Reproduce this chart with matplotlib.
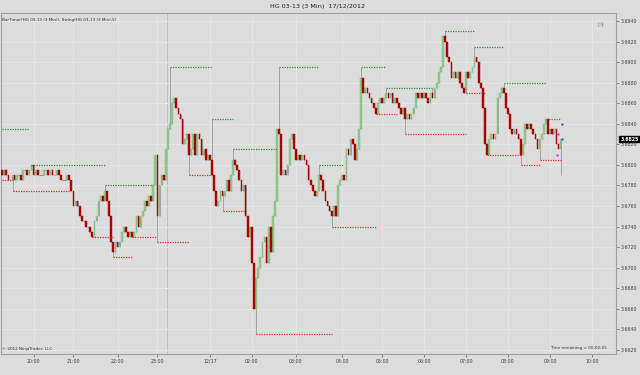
import numpy as np
import matplotlib.pyplot as plt

# HG 03-13, 3 minute bars, closes (bar 0 = left edge)
first_open = 3.6795
closes = [
    3.6790, 3.6795, 3.6790, 3.6785, 3.6785, 3.6790, 3.6785, 3.6790, 3.6790, 3.6785,
    3.6795, 3.6795, 3.6790, 3.6795, 3.6800, 3.6790, 3.6795, 3.6790, 3.6790, 3.6790,
    3.6795, 3.6795, 3.6790, 3.6795, 3.6790, 3.6790, 3.6795, 3.6790, 3.6785, 3.6785,
    3.6785, 3.6790, 3.6785, 3.6775, 3.6760, 3.6765, 3.6760, 3.6750, 3.6745, 3.6745,
    3.6740, 3.6740, 3.6735, 3.6730, 3.6745, 3.6750, 3.6765, 3.6770, 3.6765, 3.6775,
    3.6765, 3.6750, 3.6725, 3.6715, 3.6725, 3.6720, 3.6725, 3.6735, 3.6740, 3.6735,
    3.6730, 3.6735, 3.6730, 3.6735, 3.6750, 3.6740, 3.6750, 3.6755, 3.6765, 3.6760,
    3.6770, 3.6765, 3.6780, 3.6810, 3.6750, 3.6780, 3.6790, 3.6785, 3.6815, 3.6835,
    3.6840, 3.6860, 3.6865, 3.6855, 3.6850, 3.6845, 3.6820, 3.6825, 3.6830, 3.6810,
    3.6815, 3.6830, 3.6810, 3.6830, 3.6825, 3.6810, 3.6815, 3.6805, 3.6810, 3.6805,
    3.6790, 3.6775, 3.6760, 3.6765, 3.6775, 3.6770, 3.6775, 3.6785, 3.6775, 3.6790,
    3.6805, 3.6800, 3.6795, 3.6785, 3.6775, 3.6780, 3.6750, 3.6730, 3.6740, 3.6705,
    3.6660, 3.6690, 3.6700, 3.6710, 3.6725, 3.6730, 3.6705, 3.6740, 3.6715, 3.6750,
    3.6765, 3.6835, 3.6830, 3.6790, 3.6795, 3.6790, 3.6800, 3.6825, 3.6830, 3.6815,
    3.6805, 3.6810, 3.6805, 3.6810, 3.6805, 3.6800, 3.6785, 3.6780, 3.6775, 3.6770,
    3.6775, 3.6790, 3.6785, 3.6775, 3.6765, 3.6760, 3.6755, 3.6750, 3.6760, 3.6750,
    3.6780, 3.6785, 3.6790, 3.6785, 3.6815, 3.6810, 3.6825, 3.6820, 3.6805, 3.6815,
    3.6835, 3.6885, 3.6870, 3.6875, 3.6870, 3.6865, 3.6860, 3.6855, 3.6850, 3.6860,
    3.6865, 3.6860, 3.6865, 3.6870, 3.6865, 3.6870, 3.6860, 3.6865, 3.6860, 3.6855,
    3.6850, 3.6855, 3.6845, 3.6850, 3.6845, 3.6850, 3.6855, 3.6870, 3.6865, 3.6870,
    3.6865, 3.6870, 3.6865, 3.6860, 3.6870, 3.6865, 3.6875, 3.6880, 3.6890, 3.6895,
    3.6925, 3.6920, 3.6905, 3.6900, 3.6885, 3.6890, 3.6885, 3.6890, 3.6880, 3.6875,
    3.6870, 3.6890, 3.6885, 3.6890, 3.6895, 3.6905, 3.6900, 3.6880, 3.6875, 3.6855,
    3.6820, 3.6810, 3.6825, 3.6830, 3.6825, 3.6830, 3.6865, 3.6870, 3.6875, 3.6870,
    3.6855, 3.6850, 3.6835, 3.6830, 3.6835, 3.6830, 3.6825, 3.6810, 3.6820, 3.6840,
    3.6835, 3.6840, 3.6835, 3.6830, 3.6825, 3.6815, 3.6825, 3.6830, 3.6840, 3.6845,
    3.6830, 3.6835, 3.6830, 3.6835, 3.6820, 3.6815, 3.6825,
]
# bars open where the previous one closed
opens = [first_open] + closes[:-1]

# wicks that reach past the body
hi_bars = [49, 80, 100, 110, 132, 151, 171, 183, 205, 211, 225, 239, 259]
hi_vals = [3.6780, 3.6895, 3.6845, 3.6815, 3.6895, 3.6800, 3.6895, 3.6875, 3.6875,
           3.6930, 3.6915, 3.6880, 3.6845]
lo_bars = [5, 43, 53, 74, 89, 105, 121, 157, 178, 192, 221, 247, 256, 266]
lo_vals = [3.6775, 3.6730, 3.6710, 3.6725, 3.6790, 3.6755, 3.6635, 3.6740, 3.6850,
           3.6830, 3.6870, 3.6800, 3.6805, 3.6790]

# Swing(5) lines: start bar, end bar, level
sh_start = [0, 14, 49, 80, 100, 110, 132, 151, 171, 183, 211, 225, 239, 259]
sh_end = [13, 49, 72, 100, 110, 131, 151, 163, 183, 205, 225, 239, 259, 266]
sh_level = [3.6835, 3.6800, 3.6780, 3.6895, 3.6845, 3.6815, 3.6895, 3.6800, 3.6895,
            3.6875, 3.6930, 3.6915, 3.6880, 3.6845]
sl_start = [0, 5, 43, 53, 62, 74, 89, 105, 121, 157, 178, 192, 221, 231, 247, 256]
sl_end = [5, 32, 53, 62, 74, 89, 100, 116, 157, 178, 188, 221, 230, 247, 256, 266]
sl_level = [3.6785, 3.6775, 3.6730, 3.6710, 3.6730, 3.6725, 3.6790, 3.6755, 3.6635,
            3.6740, 3.6850, 3.6830, 3.6870, 3.6810, 3.6800, 3.6805]

time_pos = [15, 34, 55, 74, 99, 119, 140, 162, 181, 201, 221, 241, 261, 281]
time_labels = ['20:00', '21:00', '22:00', '23:00', '12/17', '02:00', '03:00', '04:00',
               '05:00', '06:00', '07:00', '08:00', '09:00', '10:00']
last_price = 3.6825

bg = '#dcdcdc'
fig = plt.figure(figsize=(6.4, 3.75), dpi=100, facecolor=bg)
ax = fig.add_axes([1/640, 1 - 354/375, 615/640, 341/375], facecolor=bg)

n = len(closes)
highs = [max(o, c) for o, c in zip(opens, closes)]
lows = [min(o, c) for o, c in zip(opens, closes)]
for i, v in zip(hi_bars, hi_vals):
    highs[i] = v
for i, v in zip(lo_bars, lo_vals):
    lows[i] = v

# grid
for t in time_pos:
    ax.axvline(t, color='#e6e6e6', lw=0.7, zorder=0)
ax.axvline(78.6, color='#bdbdbd', lw=0.7, zorder=0)
yt = np.arange(3.6620, 3.69401, 0.002)
for y in yt:
    ax.axhline(y, color='#e6e6e6', lw=0.7, zorder=0)

idx = np.arange(n)
ax.vlines(idx, lows, highs, color='#999999', lw=0.6, zorder=2)
o = np.array(opens)
c = np.array(closes)
up = c > o
dn = c < o
eq = c == o
ax.bar(idx[up], (c - o)[up], bottom=o[up], width=0.8, color='#8fc98f',
       edgecolor='#79b879', lw=0.3, zorder=3)
ax.bar(idx[dn], (c - o)[dn], bottom=o[dn], width=0.8, color='#b00000',
       edgecolor='#9a0000', lw=0.3, zorder=3)
ax.hlines(c[eq], idx[eq] - 0.4, idx[eq] + 0.4, color='#777777', lw=0.6, zorder=3)

for s, e, v in zip(sh_start, sh_end, sh_level):
    ax.plot([s, e], [v, v], color='#2e8b2e', lw=0.9, ls=(0, (1, 1)), zorder=4)
for s, e, v in zip(sl_start, sl_end, sl_level):
    ax.plot([s, e], [v, v], color='#e02828', lw=0.9, ls=(0, (1, 1)), zorder=4)

# small indicator marks on the last bars
ax.plot([264.6, 264.4], [3.6830, 3.6810], 's', color='#e020e0', ms=1.6, mec='none', zorder=5)
ax.plot([266.8, 266.8], [3.6840, 3.6825], 's', color='#1f3fd0', ms=1.6, mec='none', zorder=5)

ax.set_xlim(-0.5, 292.4)
ax.set_ylim(3.6616, 3.69478)

ax.yaxis.tick_right()
ax.set_yticks(yt)
ax.set_yticklabels(['%.4f' % y for y in yt])
ax.set_xticks(time_pos)
ax.set_xticklabels(time_labels)
ax.tick_params(axis='both', labelsize=3.4, colors='#404040', length=2, width=0.4, pad=1.5)
for sp in ax.spines.values():
    sp.set_color('#a0a0a0')
    sp.set_linewidth(0.8)

ax.annotate('%.4f' % last_price, xy=(1.0, last_price), xycoords=('axes fraction', 'data'),
            xytext=(3, 0), textcoords='offset points', fontsize=3.4, color='white',
            fontweight='bold', va='center', ha='left',
            bbox=dict(boxstyle='square,pad=0.15', fc='black', ec='black'))

fig.text(318/640, 1 - 6.5/375, 'HG 03-13 (3 Min)  17/12/2012', ha='center', va='center',
         fontsize=4.6, color='#202020')
ax.text(0.002, 0.985, 'BarTimer(HG 03-13 (3 Min)), Swing(HG 03-13 (3 Min),5)',
        transform=ax.transAxes, fontsize=3.0, color='#303030', va='top', ha='left')
ax.text(0.002, 0.008, '\u00a9 2012 NinjaTrader, LLC', transform=ax.transAxes,
        fontsize=3.0, color='#303030', va='bottom', ha='left')
ax.text(0.985, 0.012, 'Time remaining = 00:02:25', transform=ax.transAxes,
        fontsize=3.0, color='#303030', va='bottom', ha='right')
ax.text(0.982, 0.975, '\u25b7|', transform=ax.transAxes, fontsize=4.5,
        color='#808080', va='top', ha='right')

fig.savefig('out.png', dpi=100, facecolor=bg)
